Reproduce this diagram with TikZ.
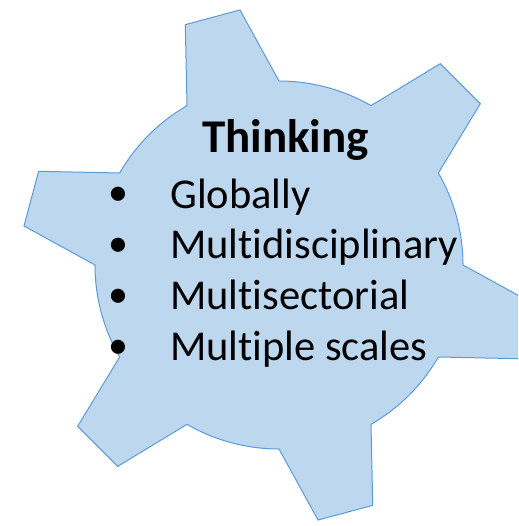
\documentclass[tikz,border=0pt]{standalone}
\usepackage{fontspec}
\setmainfont[Ligatures={NoCommon,NoContextual}]{Carlito}
\definecolor{gearfill}{HTML}{BDD7EE}
\definecolor{gearline}{HTML}{5B9BD5}
\tikzset{
  gear/.style={fill=gearfill, draw=gearline, line width=1pt, line join=miter},
  titletext/.style={anchor=base, inner sep=0pt, font=\fontsize{47}{47}\selectfont\bfseries},
  itemtext/.style={anchor=base west, inner sep=0pt, font=\fontsize{42.5}{42.5}\selectfont},
  bullettext/.style={anchor=base, inner sep=0pt, font=\fontsize{40}{40}\selectfont},
}
\begin{document}
\begin{tikzpicture}[x=1pt,y=1pt]
\useasboundingbox (0,0) rectangle (518,-526);
\clip (0,0) rectangle (518,-526);
\begin{scope}[shift={(279,-265)}]
\path[gear] (0:184)
  \foreach \a in {0,60,...,300} {
    arc[start angle=\a, end angle=\a+30, radius=184]
    -- (\a+38.7:258) -- (\a+51.3:258) -- (\a+60:184)
  } -- cycle;
\end{scope}
\node[titletext] (title) at (285.5,-153) {Thinking};
\node[bullettext] (b1) at (118,-206) {•};
\node[itemtext] (t1) at (170,-208) {Globally};
\node[bullettext] (b2) at (118,-256.5) {•};
\node[itemtext] (t2) at (170,-258.5) {Multidisciplinary};
\node[bullettext] (b3) at (118,-307) {•};
\node[itemtext] (t3) at (170,-309) {Multisectorial};
\node[bullettext] (b4) at (118,-358) {•};
\node[itemtext] (t4) at (170,-360) {Multiple scales};
\end{tikzpicture}
\end{document}
